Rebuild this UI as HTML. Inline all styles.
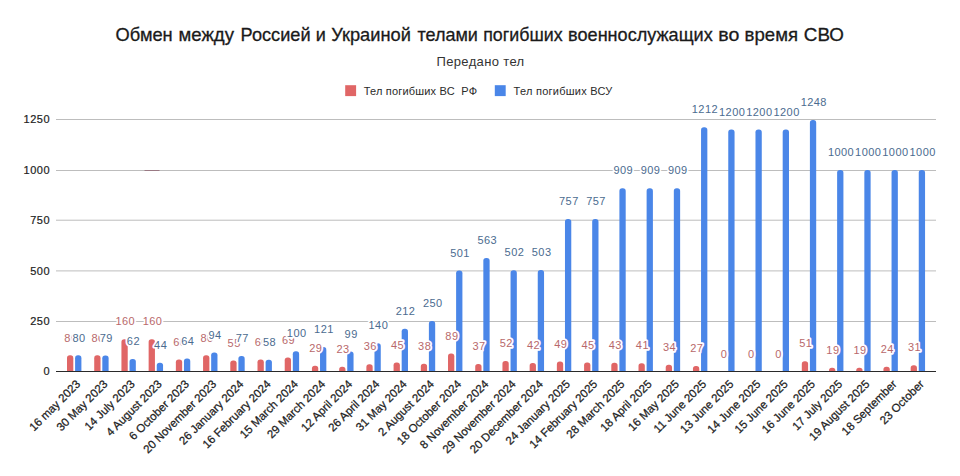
<!DOCTYPE html>
<html><head><meta charset="utf-8"><style>
html,body{margin:0;padding:0;background:#fff;}
svg{display:block;font-family:"Liberation Sans",sans-serif;}
</style></head><body>
<svg width="960" height="476" viewBox="0 0 960 476">
<rect width="960" height="476" fill="#fff"/>
<text x="115.61" y="41.2" font-size="18.5" fill="#1a1a1a" stroke="#1a1a1a" stroke-width="0.3" textLength="57.09" lengthAdjust="spacingAndGlyphs">Обмен</text>
<text x="178.5" y="41.2" font-size="18.5" fill="#1a1a1a" stroke="#1a1a1a" stroke-width="0.3" textLength="55.49" lengthAdjust="spacingAndGlyphs">между</text>
<text x="240.62" y="41.2" font-size="18.5" fill="#1a1a1a" stroke="#1a1a1a" stroke-width="0.3" textLength="69.94" lengthAdjust="spacingAndGlyphs">Россией</text>
<text x="315.82" y="41.2" font-size="18.5" fill="#1a1a1a" stroke="#1a1a1a" stroke-width="0.3" textLength="10.09" lengthAdjust="spacingAndGlyphs">и</text>
<text x="331.21" y="41.2" font-size="18.5" fill="#1a1a1a" stroke="#1a1a1a" stroke-width="0.3" textLength="79.66" lengthAdjust="spacingAndGlyphs">Украиной</text>
<text x="417.4" y="41.2" font-size="18.5" fill="#1a1a1a" stroke="#1a1a1a" stroke-width="0.3" textLength="60.55" lengthAdjust="spacingAndGlyphs">телами</text>
<text x="483.14" y="41.2" font-size="18.5" fill="#1a1a1a" stroke="#1a1a1a" stroke-width="0.3" textLength="79.47" lengthAdjust="spacingAndGlyphs">погибших</text>
<text x="568.12" y="41.2" font-size="18.5" fill="#1a1a1a" stroke="#1a1a1a" stroke-width="0.3" textLength="144.59" lengthAdjust="spacingAndGlyphs">военнослужащих</text>
<text x="718.24" y="41.2" font-size="18.5" fill="#1a1a1a" stroke="#1a1a1a" stroke-width="0.3" textLength="21.03" lengthAdjust="spacingAndGlyphs">во</text>
<text x="744.59" y="41.2" font-size="18.5" fill="#1a1a1a" stroke="#1a1a1a" stroke-width="0.3" textLength="53.47" lengthAdjust="spacingAndGlyphs">время</text>
<text x="803.88" y="41.2" font-size="18.5" fill="#1a1a1a" stroke="#1a1a1a" stroke-width="0.3" textLength="40.11" lengthAdjust="spacingAndGlyphs">СВО</text>
<text x="480.5" y="65.5" text-anchor="middle" font-size="13" fill="#333" letter-spacing="0.35">Передано тел</text>
<rect x="345.2" y="85.2" width="10.9" height="10.9" fill="#e06666"/>
<text x="363.8" y="94.6" font-size="11" fill="#2a2a2a" letter-spacing="0.18" xml:space="preserve">Тел погибших ВС  РФ</text>
<rect x="494.8" y="85.2" width="10.9" height="10.9" fill="#4a86e8"/>
<text x="513.6" y="94.6" font-size="11" fill="#2a2a2a" letter-spacing="0.25">Тел погибших ВСУ</text>
<text x="50.1" y="375.40" text-anchor="end" font-size="11" letter-spacing="0.5" fill="#222" stroke="#222" stroke-width="0.2">0</text>
<rect x="56" y="321.00" width="880" height="1" fill="#bdbdbd"/>
<text x="50.1" y="325.00" text-anchor="end" font-size="11" letter-spacing="0.5" fill="#222" stroke="#222" stroke-width="0.2">250</text>
<rect x="56" y="270.40" width="880" height="1" fill="#bdbdbd"/>
<text x="50.1" y="274.60" text-anchor="end" font-size="11" letter-spacing="0.5" fill="#222" stroke="#222" stroke-width="0.2">500</text>
<rect x="56" y="219.70" width="880" height="1" fill="#bdbdbd"/>
<text x="50.1" y="224.20" text-anchor="end" font-size="11" letter-spacing="0.5" fill="#222" stroke="#222" stroke-width="0.2">750</text>
<rect x="56" y="170.00" width="880" height="1" fill="#bdbdbd"/>
<text x="50.1" y="173.80" text-anchor="end" font-size="11" letter-spacing="0.5" fill="#222" stroke="#222" stroke-width="0.2">1000</text>
<rect x="56" y="119.00" width="880" height="1" fill="#bdbdbd"/>
<text x="50.1" y="123.40" text-anchor="end" font-size="11" letter-spacing="0.5" fill="#222" stroke="#222" stroke-width="0.2">1250</text>
<path d="M67.00,371.50 V358.17 Q67.00,355.37 69.80,355.37 H70.50 Q73.30,355.37 73.30,358.17 V371.50 Z" fill="#e06666"/>
<path d="M75.10,371.50 V358.17 Q75.10,355.37 77.90,355.37 H78.60 Q81.40,355.37 81.40,358.17 V371.50 Z" fill="#4a86e8"/>
<path d="M94.22,371.50 V358.17 Q94.22,355.37 97.02,355.37 H97.72 Q100.52,355.37 100.52,358.17 V371.50 Z" fill="#e06666"/>
<path d="M102.31,371.50 V358.37 Q102.31,355.57 105.11,355.57 H105.81 Q108.61,355.57 108.61,358.37 V371.50 Z" fill="#4a86e8"/>
<path d="M121.43,371.50 V342.04 Q121.43,339.24 124.23,339.24 H124.93 Q127.73,339.24 127.73,342.04 V371.50 Z" fill="#e06666"/>
<path d="M129.53,371.50 V361.80 Q129.53,359.00 132.33,359.00 H133.03 Q135.83,359.00 135.83,361.80 V371.50 Z" fill="#4a86e8"/>
<path d="M148.64,371.50 V342.04 Q148.64,339.24 151.44,339.24 H152.14 Q154.94,339.24 154.94,342.04 V371.50 Z" fill="#e06666"/>
<path d="M156.75,371.50 V365.43 Q156.75,362.63 159.55,362.63 H160.25 Q163.05,362.63 163.05,365.43 V371.50 Z" fill="#4a86e8"/>
<path d="M175.86,371.50 V362.20 Q175.86,359.40 178.66,359.40 H179.36 Q182.16,359.40 182.16,362.20 V371.50 Z" fill="#e06666"/>
<path d="M183.96,371.50 V361.40 Q183.96,358.60 186.76,358.60 H187.46 Q190.26,358.60 190.26,361.40 V371.50 Z" fill="#4a86e8"/>
<path d="M203.07,371.50 V358.17 Q203.07,355.37 205.88,355.37 H206.57 Q209.38,355.37 209.38,358.17 V371.50 Z" fill="#e06666"/>
<path d="M211.17,371.50 V355.35 Q211.17,352.55 213.97,352.55 H214.67 Q217.47,352.55 217.47,355.35 V371.50 Z" fill="#4a86e8"/>
<path d="M230.29,371.50 V363.21 Q230.29,360.41 233.09,360.41 H233.79 Q236.59,360.41 236.59,363.21 V371.50 Z" fill="#e06666"/>
<path d="M238.39,371.50 V358.78 Q238.39,355.98 241.19,355.98 H241.89 Q244.69,355.98 244.69,358.78 V371.50 Z" fill="#4a86e8"/>
<path d="M257.50,371.50 V362.20 Q257.50,359.40 260.31,359.40 H261.00 Q263.81,359.40 263.81,362.20 V371.50 Z" fill="#e06666"/>
<path d="M265.61,371.50 V362.61 Q265.61,359.81 268.41,359.81 H269.11 Q271.91,359.81 271.91,362.61 V371.50 Z" fill="#4a86e8"/>
<path d="M284.72,371.50 V360.39 Q284.72,357.59 287.52,357.59 H288.22 Q291.02,357.59 291.02,360.39 V371.50 Z" fill="#e06666"/>
<path d="M292.82,371.50 V354.14 Q292.82,351.34 295.62,351.34 H296.32 Q299.12,351.34 299.12,354.14 V371.50 Z" fill="#4a86e8"/>
<path d="M311.94,371.50 V368.45 Q311.94,365.65 314.74,365.65 H315.44 Q318.24,365.65 318.24,368.45 V371.50 Z" fill="#e06666"/>
<path d="M320.03,371.50 V349.91 Q320.03,347.11 322.83,347.11 H323.53 Q326.33,347.11 326.33,349.91 V371.50 Z" fill="#4a86e8"/>
<path d="M339.15,371.50 V369.66 Q339.15,366.86 341.95,366.86 H342.65 Q345.45,366.86 345.45,369.66 V371.50 Z" fill="#e06666"/>
<path d="M347.25,371.50 V354.34 Q347.25,351.54 350.05,351.54 H350.75 Q353.55,351.54 353.55,354.34 V371.50 Z" fill="#4a86e8"/>
<path d="M366.37,371.50 V367.04 Q366.37,364.24 369.17,364.24 H369.87 Q372.67,364.24 372.67,367.04 V371.50 Z" fill="#e06666"/>
<path d="M374.47,371.50 V346.08 Q374.47,343.28 377.27,343.28 H377.97 Q380.77,343.28 380.77,346.08 V371.50 Z" fill="#4a86e8"/>
<path d="M393.58,371.50 V365.23 Q393.58,362.43 396.38,362.43 H397.08 Q399.88,362.43 399.88,365.23 V371.50 Z" fill="#e06666"/>
<path d="M401.68,371.50 V331.56 Q401.68,328.76 404.48,328.76 H405.18 Q407.98,328.76 407.98,331.56 V371.50 Z" fill="#4a86e8"/>
<path d="M420.80,371.50 V366.64 Q420.80,363.84 423.60,363.84 H424.30 Q427.10,363.84 427.10,366.64 V371.50 Z" fill="#e06666"/>
<path d="M428.89,371.50 V323.90 Q428.89,321.10 431.69,321.10 H432.39 Q435.19,321.10 435.19,323.90 V371.50 Z" fill="#4a86e8"/>
<path d="M448.01,371.50 V356.36 Q448.01,353.56 450.81,353.56 H451.51 Q454.31,353.56 454.31,356.36 V371.50 Z" fill="#e06666"/>
<path d="M456.11,371.50 V273.30 Q456.11,270.50 458.91,270.50 H459.61 Q462.41,270.50 462.41,273.30 V371.50 Z" fill="#4a86e8"/>
<path d="M475.23,371.50 V366.84 Q475.23,364.04 478.03,364.04 H478.73 Q481.53,364.04 481.53,366.84 V371.50 Z" fill="#e06666"/>
<path d="M483.33,371.50 V260.80 Q483.33,258.00 486.13,258.00 H486.83 Q489.63,258.00 489.63,260.80 V371.50 Z" fill="#4a86e8"/>
<path d="M502.44,371.50 V363.82 Q502.44,361.02 505.24,361.02 H505.94 Q508.74,361.02 508.74,363.82 V371.50 Z" fill="#e06666"/>
<path d="M510.54,371.50 V273.10 Q510.54,270.30 513.34,270.30 H514.04 Q516.84,270.30 516.84,273.10 V371.50 Z" fill="#4a86e8"/>
<path d="M529.65,371.50 V365.83 Q529.65,363.03 532.45,363.03 H533.15 Q535.95,363.03 535.95,365.83 V371.50 Z" fill="#e06666"/>
<path d="M537.75,371.50 V272.90 Q537.75,270.10 540.55,270.10 H541.25 Q544.05,270.10 544.05,272.90 V371.50 Z" fill="#4a86e8"/>
<path d="M556.87,371.50 V364.42 Q556.87,361.62 559.67,361.62 H560.37 Q563.17,361.62 563.17,364.42 V371.50 Z" fill="#e06666"/>
<path d="M564.97,371.50 V221.69 Q564.97,218.89 567.77,218.89 H568.47 Q571.27,218.89 571.27,221.69 V371.50 Z" fill="#4a86e8"/>
<path d="M584.09,371.50 V365.23 Q584.09,362.43 586.88,362.43 H587.59 Q590.38,362.43 590.38,365.23 V371.50 Z" fill="#e06666"/>
<path d="M592.19,371.50 V221.69 Q592.19,218.89 594.99,218.89 H595.69 Q598.49,218.89 598.49,221.69 V371.50 Z" fill="#4a86e8"/>
<path d="M611.30,371.50 V365.63 Q611.30,362.83 614.10,362.83 H614.80 Q617.60,362.83 617.60,365.63 V371.50 Z" fill="#e06666"/>
<path d="M619.40,371.50 V191.05 Q619.40,188.25 622.20,188.25 H622.90 Q625.70,188.25 625.70,191.05 V371.50 Z" fill="#4a86e8"/>
<path d="M638.51,371.50 V366.03 Q638.51,363.23 641.31,363.23 H642.01 Q644.81,363.23 644.81,366.03 V371.50 Z" fill="#e06666"/>
<path d="M646.62,371.50 V191.05 Q646.62,188.25 649.41,188.25 H650.12 Q652.91,188.25 652.91,191.05 V371.50 Z" fill="#4a86e8"/>
<path d="M665.73,371.50 V367.45 Q665.73,364.65 668.53,364.65 H669.23 Q672.03,364.65 672.03,367.45 V371.50 Z" fill="#e06666"/>
<path d="M673.83,371.50 V191.05 Q673.83,188.25 676.63,188.25 H677.33 Q680.13,188.25 680.13,191.05 V371.50 Z" fill="#4a86e8"/>
<path d="M692.95,371.50 V368.86 Q692.95,366.06 695.75,366.06 H696.45 Q699.25,366.06 699.25,368.86 V371.50 Z" fill="#e06666"/>
<path d="M701.05,371.50 V129.96 Q701.05,127.16 703.85,127.16 H704.55 Q707.35,127.16 707.35,129.96 V371.50 Z" fill="#4a86e8"/>
<path d="M728.26,371.50 V132.38 Q728.26,129.58 731.06,129.58 H731.76 Q734.56,129.58 734.56,132.38 V371.50 Z" fill="#4a86e8"/>
<path d="M755.48,371.50 V132.38 Q755.48,129.58 758.27,129.58 H758.98 Q761.77,129.58 761.77,132.38 V371.50 Z" fill="#4a86e8"/>
<path d="M782.69,371.50 V132.38 Q782.69,129.58 785.49,129.58 H786.19 Q788.99,129.58 788.99,132.38 V371.50 Z" fill="#4a86e8"/>
<path d="M801.80,371.50 V364.02 Q801.80,361.22 804.60,361.22 H805.30 Q808.10,361.22 808.10,364.02 V371.50 Z" fill="#e06666"/>
<path d="M809.90,371.50 V122.70 Q809.90,119.90 812.70,119.90 H813.40 Q816.20,119.90 816.20,122.70 V371.50 Z" fill="#4a86e8"/>
<path d="M829.02,371.50 V370.47 Q829.02,367.67 831.82,367.67 H832.52 Q835.32,367.67 835.32,370.47 V371.50 Z" fill="#e06666"/>
<path d="M837.12,371.50 V172.70 Q837.12,169.90 839.92,169.90 H840.62 Q843.42,169.90 843.42,172.70 V371.50 Z" fill="#4a86e8"/>
<path d="M856.24,371.50 V370.47 Q856.24,367.67 859.03,367.67 H859.74 Q862.53,367.67 862.53,370.47 V371.50 Z" fill="#e06666"/>
<path d="M864.34,371.50 V172.70 Q864.34,169.90 867.13,169.90 H867.84 Q870.63,169.90 870.63,172.70 V371.50 Z" fill="#4a86e8"/>
<path d="M883.45,371.50 V369.46 Q883.45,366.66 886.25,366.66 H886.95 Q889.75,366.66 889.75,369.46 V371.50 Z" fill="#e06666"/>
<path d="M891.55,371.50 V172.70 Q891.55,169.90 894.35,169.90 H895.05 Q897.85,169.90 897.85,172.70 V371.50 Z" fill="#4a86e8"/>
<path d="M910.66,371.50 V368.05 Q910.66,365.25 913.46,365.25 H914.16 Q916.96,365.25 916.96,368.05 V371.50 Z" fill="#e06666"/>
<path d="M918.76,371.50 V172.70 Q918.76,169.90 921.56,169.90 H922.26 Q925.06,169.90 925.06,172.70 V371.50 Z" fill="#4a86e8"/>
<rect x="56" y="371" width="880" height="1" fill="#2a2a2a"/>
<rect x="144.5" y="170" width="15" height="1" fill="#9a7a84"/>
<text x="70.90" y="341.52" text-anchor="middle" font-size="11" letter-spacing="0.45" fill="#b8686b" stroke="#fff" stroke-width="3.4" paint-order="stroke" stroke-linejoin="round">80</text>
<text x="98.12" y="341.52" text-anchor="middle" font-size="11" letter-spacing="0.45" fill="#b8686b" stroke="#fff" stroke-width="3.4" paint-order="stroke" stroke-linejoin="round">80</text>
<text x="125.33" y="325.39" text-anchor="middle" font-size="11" letter-spacing="0.45" fill="#b8686b" stroke="#fff" stroke-width="3.4" paint-order="stroke" stroke-linejoin="round">160</text>
<text x="152.54" y="325.39" text-anchor="middle" font-size="11" letter-spacing="0.45" fill="#b8686b" stroke="#fff" stroke-width="3.4" paint-order="stroke" stroke-linejoin="round">160</text>
<text x="179.76" y="345.55" text-anchor="middle" font-size="11" letter-spacing="0.45" fill="#b8686b" stroke="#fff" stroke-width="3.4" paint-order="stroke" stroke-linejoin="round">60</text>
<text x="206.97" y="341.52" text-anchor="middle" font-size="11" letter-spacing="0.45" fill="#b8686b" stroke="#fff" stroke-width="3.4" paint-order="stroke" stroke-linejoin="round">80</text>
<text x="234.19" y="346.56" text-anchor="middle" font-size="11" letter-spacing="0.45" fill="#b8686b" stroke="#fff" stroke-width="3.4" paint-order="stroke" stroke-linejoin="round">55</text>
<text x="261.40" y="345.55" text-anchor="middle" font-size="11" letter-spacing="0.45" fill="#b8686b" stroke="#fff" stroke-width="3.4" paint-order="stroke" stroke-linejoin="round">60</text>
<text x="288.62" y="343.74" text-anchor="middle" font-size="11" letter-spacing="0.45" fill="#b8686b" stroke="#fff" stroke-width="3.4" paint-order="stroke" stroke-linejoin="round">69</text>
<text x="315.83" y="351.80" text-anchor="middle" font-size="11" letter-spacing="0.45" fill="#b8686b" stroke="#fff" stroke-width="3.4" paint-order="stroke" stroke-linejoin="round">29</text>
<text x="343.05" y="353.01" text-anchor="middle" font-size="11" letter-spacing="0.45" fill="#b8686b" stroke="#fff" stroke-width="3.4" paint-order="stroke" stroke-linejoin="round">23</text>
<text x="370.26" y="350.39" text-anchor="middle" font-size="11" letter-spacing="0.45" fill="#b8686b" stroke="#fff" stroke-width="3.4" paint-order="stroke" stroke-linejoin="round">36</text>
<text x="397.48" y="348.58" text-anchor="middle" font-size="11" letter-spacing="0.45" fill="#b8686b" stroke="#fff" stroke-width="3.4" paint-order="stroke" stroke-linejoin="round">45</text>
<text x="424.69" y="349.99" text-anchor="middle" font-size="11" letter-spacing="0.45" fill="#b8686b" stroke="#fff" stroke-width="3.4" paint-order="stroke" stroke-linejoin="round">38</text>
<text x="451.91" y="339.71" text-anchor="middle" font-size="11" letter-spacing="0.45" fill="#b8686b" stroke="#fff" stroke-width="3.4" paint-order="stroke" stroke-linejoin="round">89</text>
<text x="479.12" y="350.19" text-anchor="middle" font-size="11" letter-spacing="0.45" fill="#b8686b" stroke="#fff" stroke-width="3.4" paint-order="stroke" stroke-linejoin="round">37</text>
<text x="506.34" y="347.17" text-anchor="middle" font-size="11" letter-spacing="0.45" fill="#b8686b" stroke="#fff" stroke-width="3.4" paint-order="stroke" stroke-linejoin="round">52</text>
<text x="533.55" y="349.18" text-anchor="middle" font-size="11" letter-spacing="0.45" fill="#b8686b" stroke="#fff" stroke-width="3.4" paint-order="stroke" stroke-linejoin="round">42</text>
<text x="560.77" y="347.77" text-anchor="middle" font-size="11" letter-spacing="0.45" fill="#b8686b" stroke="#fff" stroke-width="3.4" paint-order="stroke" stroke-linejoin="round">49</text>
<text x="587.99" y="348.58" text-anchor="middle" font-size="11" letter-spacing="0.45" fill="#b8686b" stroke="#fff" stroke-width="3.4" paint-order="stroke" stroke-linejoin="round">45</text>
<text x="615.20" y="348.98" text-anchor="middle" font-size="11" letter-spacing="0.45" fill="#b8686b" stroke="#fff" stroke-width="3.4" paint-order="stroke" stroke-linejoin="round">43</text>
<text x="642.41" y="349.38" text-anchor="middle" font-size="11" letter-spacing="0.45" fill="#b8686b" stroke="#fff" stroke-width="3.4" paint-order="stroke" stroke-linejoin="round">41</text>
<text x="669.63" y="350.80" text-anchor="middle" font-size="11" letter-spacing="0.45" fill="#b8686b" stroke="#fff" stroke-width="3.4" paint-order="stroke" stroke-linejoin="round">34</text>
<text x="696.85" y="352.21" text-anchor="middle" font-size="11" letter-spacing="0.45" fill="#b8686b" stroke="#fff" stroke-width="3.4" paint-order="stroke" stroke-linejoin="round">27</text>
<text x="724.06" y="357.65" text-anchor="middle" font-size="11" letter-spacing="0.45" fill="#b8686b" stroke="#fff" stroke-width="3.4" paint-order="stroke" stroke-linejoin="round">0</text>
<text x="751.27" y="357.65" text-anchor="middle" font-size="11" letter-spacing="0.45" fill="#b8686b" stroke="#fff" stroke-width="3.4" paint-order="stroke" stroke-linejoin="round">0</text>
<text x="778.49" y="357.65" text-anchor="middle" font-size="11" letter-spacing="0.45" fill="#b8686b" stroke="#fff" stroke-width="3.4" paint-order="stroke" stroke-linejoin="round">0</text>
<text x="805.70" y="347.37" text-anchor="middle" font-size="11" letter-spacing="0.45" fill="#b8686b" stroke="#fff" stroke-width="3.4" paint-order="stroke" stroke-linejoin="round">51</text>
<text x="832.92" y="353.82" text-anchor="middle" font-size="11" letter-spacing="0.45" fill="#b8686b" stroke="#fff" stroke-width="3.4" paint-order="stroke" stroke-linejoin="round">19</text>
<text x="860.13" y="353.82" text-anchor="middle" font-size="11" letter-spacing="0.45" fill="#b8686b" stroke="#fff" stroke-width="3.4" paint-order="stroke" stroke-linejoin="round">19</text>
<text x="887.35" y="352.81" text-anchor="middle" font-size="11" letter-spacing="0.45" fill="#b8686b" stroke="#fff" stroke-width="3.4" paint-order="stroke" stroke-linejoin="round">24</text>
<text x="914.56" y="351.40" text-anchor="middle" font-size="11" letter-spacing="0.45" fill="#b8686b" stroke="#fff" stroke-width="3.4" paint-order="stroke" stroke-linejoin="round">31</text>
<text x="79.00" y="341.52" text-anchor="middle" font-size="11" letter-spacing="0.45" fill="#4b6b8f" stroke="#fff" stroke-width="3.4" paint-order="stroke" stroke-linejoin="round">80</text>
<text x="106.22" y="341.72" text-anchor="middle" font-size="11" letter-spacing="0.45" fill="#4b6b8f" stroke="#fff" stroke-width="3.4" paint-order="stroke" stroke-linejoin="round">79</text>
<text x="133.43" y="345.15" text-anchor="middle" font-size="11" letter-spacing="0.45" fill="#4b6b8f" stroke="#fff" stroke-width="3.4" paint-order="stroke" stroke-linejoin="round">62</text>
<text x="160.65" y="348.78" text-anchor="middle" font-size="11" letter-spacing="0.45" fill="#4b6b8f" stroke="#fff" stroke-width="3.4" paint-order="stroke" stroke-linejoin="round">44</text>
<text x="187.86" y="344.75" text-anchor="middle" font-size="11" letter-spacing="0.45" fill="#4b6b8f" stroke="#fff" stroke-width="3.4" paint-order="stroke" stroke-linejoin="round">64</text>
<text x="215.07" y="338.70" text-anchor="middle" font-size="11" letter-spacing="0.45" fill="#4b6b8f" stroke="#fff" stroke-width="3.4" paint-order="stroke" stroke-linejoin="round">94</text>
<text x="242.29" y="342.13" text-anchor="middle" font-size="11" letter-spacing="0.45" fill="#4b6b8f" stroke="#fff" stroke-width="3.4" paint-order="stroke" stroke-linejoin="round">77</text>
<text x="269.50" y="345.96" text-anchor="middle" font-size="11" letter-spacing="0.45" fill="#4b6b8f" stroke="#fff" stroke-width="3.4" paint-order="stroke" stroke-linejoin="round">58</text>
<text x="296.72" y="337.49" text-anchor="middle" font-size="11" letter-spacing="0.45" fill="#4b6b8f" stroke="#fff" stroke-width="3.4" paint-order="stroke" stroke-linejoin="round">100</text>
<text x="323.93" y="333.26" text-anchor="middle" font-size="11" letter-spacing="0.45" fill="#4b6b8f" stroke="#fff" stroke-width="3.4" paint-order="stroke" stroke-linejoin="round">121</text>
<text x="351.15" y="337.69" text-anchor="middle" font-size="11" letter-spacing="0.45" fill="#4b6b8f" stroke="#fff" stroke-width="3.4" paint-order="stroke" stroke-linejoin="round">99</text>
<text x="378.37" y="329.43" text-anchor="middle" font-size="11" letter-spacing="0.45" fill="#4b6b8f" stroke="#fff" stroke-width="3.4" paint-order="stroke" stroke-linejoin="round">140</text>
<text x="405.58" y="314.91" text-anchor="middle" font-size="11" letter-spacing="0.45" fill="#4b6b8f" stroke="#fff" stroke-width="3.4" paint-order="stroke" stroke-linejoin="round">212</text>
<text x="432.79" y="307.25" text-anchor="middle" font-size="11" letter-spacing="0.45" fill="#4b6b8f" stroke="#fff" stroke-width="3.4" paint-order="stroke" stroke-linejoin="round">250</text>
<text x="460.01" y="256.65" text-anchor="middle" font-size="11" letter-spacing="0.45" fill="#4b6b8f" stroke="#fff" stroke-width="3.4" paint-order="stroke" stroke-linejoin="round">501</text>
<text x="487.23" y="244.15" text-anchor="middle" font-size="11" letter-spacing="0.45" fill="#4b6b8f" stroke="#fff" stroke-width="3.4" paint-order="stroke" stroke-linejoin="round">563</text>
<text x="514.44" y="256.45" text-anchor="middle" font-size="11" letter-spacing="0.45" fill="#4b6b8f" stroke="#fff" stroke-width="3.4" paint-order="stroke" stroke-linejoin="round">502</text>
<text x="541.65" y="256.25" text-anchor="middle" font-size="11" letter-spacing="0.45" fill="#4b6b8f" stroke="#fff" stroke-width="3.4" paint-order="stroke" stroke-linejoin="round">503</text>
<text x="568.87" y="205.04" text-anchor="middle" font-size="11" letter-spacing="0.45" fill="#4b6b8f" stroke="#fff" stroke-width="3.4" paint-order="stroke" stroke-linejoin="round">757</text>
<text x="596.09" y="205.04" text-anchor="middle" font-size="11" letter-spacing="0.45" fill="#4b6b8f" stroke="#fff" stroke-width="3.4" paint-order="stroke" stroke-linejoin="round">757</text>
<text x="623.30" y="174.40" text-anchor="middle" font-size="11" letter-spacing="0.45" fill="#4b6b8f" stroke="#fff" stroke-width="3.4" paint-order="stroke" stroke-linejoin="round">909</text>
<text x="650.51" y="174.40" text-anchor="middle" font-size="11" letter-spacing="0.45" fill="#4b6b8f" stroke="#fff" stroke-width="3.4" paint-order="stroke" stroke-linejoin="round">909</text>
<text x="677.73" y="174.40" text-anchor="middle" font-size="11" letter-spacing="0.45" fill="#4b6b8f" stroke="#fff" stroke-width="3.4" paint-order="stroke" stroke-linejoin="round">909</text>
<text x="704.95" y="113.31" text-anchor="middle" font-size="11" letter-spacing="0.45" fill="#4b6b8f" stroke="#fff" stroke-width="3.4" paint-order="stroke" stroke-linejoin="round">1212</text>
<text x="732.16" y="115.73" text-anchor="middle" font-size="11" letter-spacing="0.45" fill="#4b6b8f" stroke="#fff" stroke-width="3.4" paint-order="stroke" stroke-linejoin="round">1200</text>
<text x="759.38" y="115.73" text-anchor="middle" font-size="11" letter-spacing="0.45" fill="#4b6b8f" stroke="#fff" stroke-width="3.4" paint-order="stroke" stroke-linejoin="round">1200</text>
<text x="786.59" y="115.73" text-anchor="middle" font-size="11" letter-spacing="0.45" fill="#4b6b8f" stroke="#fff" stroke-width="3.4" paint-order="stroke" stroke-linejoin="round">1200</text>
<text x="813.80" y="106.05" text-anchor="middle" font-size="11" letter-spacing="0.45" fill="#4b6b8f" stroke="#fff" stroke-width="3.4" paint-order="stroke" stroke-linejoin="round">1248</text>
<text x="841.02" y="156.05" text-anchor="middle" font-size="11" letter-spacing="0.45" fill="#4b6b8f" stroke="#fff" stroke-width="3.4" paint-order="stroke" stroke-linejoin="round">1000</text>
<text x="868.24" y="156.05" text-anchor="middle" font-size="11" letter-spacing="0.45" fill="#4b6b8f" stroke="#fff" stroke-width="3.4" paint-order="stroke" stroke-linejoin="round">1000</text>
<text x="895.45" y="156.05" text-anchor="middle" font-size="11" letter-spacing="0.45" fill="#4b6b8f" stroke="#fff" stroke-width="3.4" paint-order="stroke" stroke-linejoin="round">1000</text>
<text x="922.66" y="156.05" text-anchor="middle" font-size="11" letter-spacing="0.45" fill="#4b6b8f" stroke="#fff" stroke-width="3.4" paint-order="stroke" stroke-linejoin="round">1000</text>
<text transform="translate(81.00,384.80) rotate(-45)" text-anchor="end" font-size="11.5" fill="#222" stroke="#222" stroke-width="0.25">16 may 2023</text>
<text transform="translate(108.22,384.80) rotate(-45)" text-anchor="end" font-size="11.5" fill="#222" stroke="#222" stroke-width="0.25">30 May 2023</text>
<text transform="translate(135.43,384.80) rotate(-45)" text-anchor="end" font-size="11.5" fill="#222" stroke="#222" stroke-width="0.25">14 July 2023</text>
<text transform="translate(162.64,384.80) rotate(-45)" text-anchor="end" font-size="11.5" fill="#222" stroke="#222" stroke-width="0.25">4 August 2023</text>
<text transform="translate(189.86,384.80) rotate(-45)" text-anchor="end" font-size="11.5" fill="#222" stroke="#222" stroke-width="0.25">6 October 2023</text>
<text transform="translate(217.07,384.80) rotate(-45)" text-anchor="end" font-size="11.5" fill="#222" stroke="#222" stroke-width="0.25">20 November 2023</text>
<text transform="translate(244.29,384.80) rotate(-45)" text-anchor="end" font-size="11.5" fill="#222" stroke="#222" stroke-width="0.25">26 January 2024</text>
<text transform="translate(271.50,384.80) rotate(-45)" text-anchor="end" font-size="11.5" fill="#222" stroke="#222" stroke-width="0.25">16 February 2024</text>
<text transform="translate(298.72,384.80) rotate(-45)" text-anchor="end" font-size="11.5" fill="#222" stroke="#222" stroke-width="0.25">15 March 2024</text>
<text transform="translate(325.94,384.80) rotate(-45)" text-anchor="end" font-size="11.5" fill="#222" stroke="#222" stroke-width="0.25">29 March 2024</text>
<text transform="translate(353.15,384.80) rotate(-45)" text-anchor="end" font-size="11.5" fill="#222" stroke="#222" stroke-width="0.25">12 April 2024</text>
<text transform="translate(380.37,384.80) rotate(-45)" text-anchor="end" font-size="11.5" fill="#222" stroke="#222" stroke-width="0.25">26 April 2024</text>
<text transform="translate(407.58,384.80) rotate(-45)" text-anchor="end" font-size="11.5" fill="#222" stroke="#222" stroke-width="0.25">31 May 2024</text>
<text transform="translate(434.80,384.80) rotate(-45)" text-anchor="end" font-size="11.5" fill="#222" stroke="#222" stroke-width="0.25">2 August 2024</text>
<text transform="translate(462.01,384.80) rotate(-45)" text-anchor="end" font-size="11.5" fill="#222" stroke="#222" stroke-width="0.25">18 October 2024</text>
<text transform="translate(489.23,384.80) rotate(-45)" text-anchor="end" font-size="11.5" fill="#222" stroke="#222" stroke-width="0.25">8 November 2024</text>
<text transform="translate(516.44,384.80) rotate(-45)" text-anchor="end" font-size="11.5" fill="#222" stroke="#222" stroke-width="0.25">29 November 2024</text>
<text transform="translate(543.65,384.80) rotate(-45)" text-anchor="end" font-size="11.5" fill="#222" stroke="#222" stroke-width="0.25">20 December 2024</text>
<text transform="translate(570.87,384.80) rotate(-45)" text-anchor="end" font-size="11.5" fill="#222" stroke="#222" stroke-width="0.25">24 January 2025</text>
<text transform="translate(598.09,384.80) rotate(-45)" text-anchor="end" font-size="11.5" fill="#222" stroke="#222" stroke-width="0.25">14 February 2025</text>
<text transform="translate(625.30,384.80) rotate(-45)" text-anchor="end" font-size="11.5" fill="#222" stroke="#222" stroke-width="0.25">28 March 2025</text>
<text transform="translate(652.51,384.80) rotate(-45)" text-anchor="end" font-size="11.5" fill="#222" stroke="#222" stroke-width="0.25">18 April 2025</text>
<text transform="translate(679.73,384.80) rotate(-45)" text-anchor="end" font-size="11.5" fill="#222" stroke="#222" stroke-width="0.25">16 May 2025</text>
<text transform="translate(706.95,384.80) rotate(-45)" text-anchor="end" font-size="11.5" fill="#222" stroke="#222" stroke-width="0.25">11 June 2025</text>
<text transform="translate(734.16,384.80) rotate(-45)" text-anchor="end" font-size="11.5" fill="#222" stroke="#222" stroke-width="0.25">13 June 2025</text>
<text transform="translate(761.38,384.80) rotate(-45)" text-anchor="end" font-size="11.5" fill="#222" stroke="#222" stroke-width="0.25">14 June 2025</text>
<text transform="translate(788.59,384.80) rotate(-45)" text-anchor="end" font-size="11.5" fill="#222" stroke="#222" stroke-width="0.25">15 June 2025</text>
<text transform="translate(815.80,384.80) rotate(-45)" text-anchor="end" font-size="11.5" fill="#222" stroke="#222" stroke-width="0.25">16 June 2025</text>
<text transform="translate(843.02,384.80) rotate(-45)" text-anchor="end" font-size="11.5" fill="#222" stroke="#222" stroke-width="0.25">17 July 2025</text>
<text transform="translate(870.24,384.80) rotate(-45)" text-anchor="end" font-size="11.5" fill="#222" stroke="#222" stroke-width="0.25">19 August 2025</text>
<text transform="translate(897.45,384.80) rotate(-45)" text-anchor="end" font-size="11.5" fill="#222" stroke="#222" stroke-width="0.25">18 September</text>
<text transform="translate(924.66,384.80) rotate(-45)" text-anchor="end" font-size="11.5" fill="#222" stroke="#222" stroke-width="0.25">23 October</text>
</svg>
</body></html>
